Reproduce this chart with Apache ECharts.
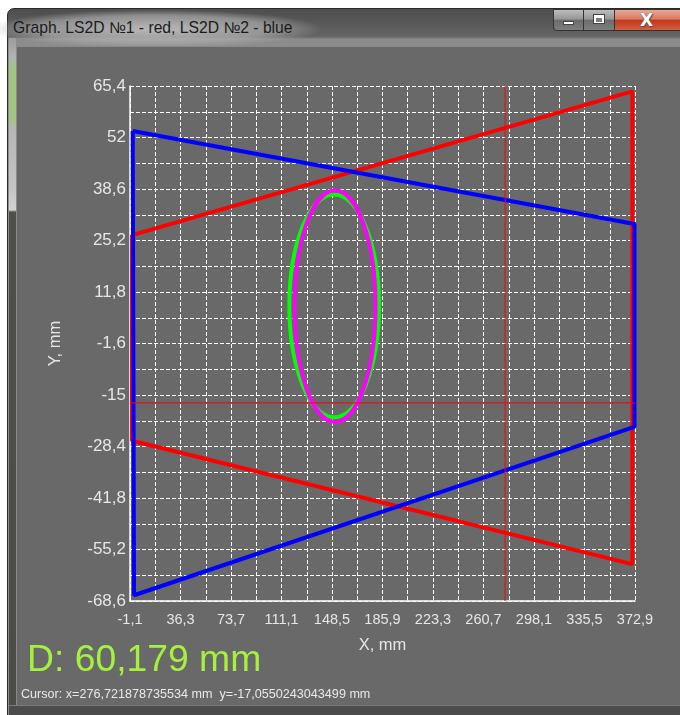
<!DOCTYPE html>
<html><head><meta charset="utf-8">
<script src="https://cdn.jsdelivr.net/npm/echarts@6/dist/echarts.min.js"></script>
<style>
html,body{margin:0;padding:0;width:680px;height:715px;overflow:hidden;background:#ffffff;}
#frame{position:absolute;left:7px;top:8px;width:700px;height:720px;border:1px solid #2a2a2a;border-radius:7px 7px 0 0;box-sizing:border-box;
 background:linear-gradient(to bottom,#4e4e4e 0px,#585858 14px,#646464 27px,#6a6a6a 28px,#8a8a8a 30px,#8e8e8e 38px);}
#glow{position:absolute;left:-10px;top:10px;width:330px;height:38px;
 background:radial-gradient(ellipse at center, rgba(200,200,200,0.85) 0%, rgba(175,175,175,0.65) 50%, rgba(120,120,120,0) 72%);}
#title{position:absolute;left:13px;top:19px;font:15.7px 'Liberation Sans',Arial,sans-serif;color:#1b1b1b;white-space:nowrap;}
#leftglass{position:absolute;left:9px;top:38px;width:7px;height:677px;
 background:linear-gradient(to bottom,#9c9c9c 0px,#b4b4b4 20px,#a3c383 30px,#a3c383 82px,#b6b6b6 92px,#c4c4c4 150px,#d2d2d2 172px,#4f4f4a 174px,#4b4b47 100%);}
#client{position:absolute;left:16px;top:46px;width:680px;height:659px;background:#696969;border-top:1px solid #8a8a8a;border-left:1px solid #8a8a8a;box-sizing:border-box;}
#bottomframe{position:absolute;left:9px;top:705px;width:680px;height:10px;background:#4c4c4c;border-top:1px solid #7a7a7a;box-sizing:border-box;}
.btn{position:absolute;top:9px;height:22px;border:1px solid #333;box-sizing:border-box;}
#bmin{left:553px;width:31px;border-radius:0 0 0 4px;background:linear-gradient(#bdbdbd,#969696 45%,#6c6c6c 52%,#7e7e7e);}
#bmax{left:583px;width:32px;background:linear-gradient(#bdbdbd,#969696 45%,#6c6c6c 52%,#7e7e7e);}
#bclose{left:614px;width:70px;border-radius:0 0 4px 0;background:linear-gradient(#eaa898,#d97a62 45%,#c2381a 52%,#d0603e);}
#imin{position:absolute;left:563px;top:21px;width:11px;height:4px;background:#fff;border:1px solid #444;box-sizing:border-box;}
#imax{position:absolute;left:593px;top:14px;width:12px;height:10px;border:1px solid #444;box-sizing:border-box;background:#fff;}
#imax2{position:absolute;left:596px;top:18px;width:6px;height:4px;background:#7c7c7c;}
#iclose{position:absolute;left:640px;top:10px;font:bold 17px 'DejaVu Sans',sans-serif;color:#fff;text-shadow:0 0 1px #444,1px 1px 1px #555;}
#chart{position:absolute;left:0;top:0;width:680px;height:715px;z-index:5;}
</style></head>
<body>
<div id="frame"></div>
<div id="glow"></div>
<div id="title">Graph. LS2D №1 - red, LS2D №2 - blue</div>
<div id="leftglass"></div>
<div id="client"></div>
<div id="bottomframe"></div>
<div class="btn" id="bmin"></div>
<div class="btn" id="bmax"></div>
<div class="btn" id="bclose"></div>
<div id="imin"></div>
<div id="imax"></div><div id="imax2"></div>
<div id="iclose">X</div>
<div id="chart"></div>
<script>
// ---- data ----
const xTickLabels = ['-1,1','36,3','73,7','111,1','148,5','185,9','223,3','260,7','298,1','335,5','372,9'];
const yTickLabels = ['-68,6','-55,2','-41,8','-28,4','-15','-1,6','11,8','25,2','38,6','52','65,4'];
const xMin = -1.1, xMax = 372.9, xGridStep = 18.7, xLabelStep = 37.4;
const yMin = -68.6, yMax = 65.4, yGridStep = 6.7, yLabelStep = 13.4;
// LS2D No1 (red) contour
const ls2d1X = [0.4, 370.9, 370.9, 0.4, 0.4];
const ls2d1Y = [26.6, 64.0, -59.0, -26.9, 26.6];
// LS2D No2 (blue) contour
const ls2d2X = [0.9, 372.5, 372.5, 1.9, 0.9];
const ls2d2Y = [53.7, 29.5, -23.3, -67.1, 53.7];
// fitted shapes: [cx, cy, rx, ry] in mm
const greenShape = [150.1, 8.2, 33.2, 29.0];
const magentaShape = [150.7, 8.1, 30.09, 30.09];
// cursor
const cursorX = 276.721878735534;
const cursorY = -17.0550243043499;
const diameterLabel = 'D: 60,179 mm';

function zip(a, b) { return a.map((v, i) => [v, b[i]]); }
function tickLabel(v, min, step, arr) {
  const k = (v - min) / step, r = Math.round(k);
  return Math.abs(k - r) < 1e-3 && arr[r] !== undefined ? arr[r] : '';
}
function ellipseItem(color) {
  return function (params, api) {
    const c = api.coord([api.value(0), api.value(1)]);
    const s = api.size([api.value(2), api.value(3)]);
    return { type: 'ellipse', shape: { cx: c[0], cy: c[1], rx: s[0], ry: s[1] },
      style: { fill: 'none', stroke: color, lineWidth: 4 } };
  };
}
const cursorText = 'Cursor: x=' + String(cursorX).replace('.', ',') + ' mm  y=' + String(cursorY).replace('.', ',') + ' mm';

const chart = echarts.init(document.getElementById('chart'), null, { renderer: 'canvas' });
chart.setOption({
  backgroundColor: 'transparent',
  animation: false,
  grid: { left: 130, top: 86, width: 505, height: 515, containLabel: false },
  xAxis: {
    type: 'value', min: xMin, max: xMax, interval: xGridStep,
    name: 'X, mm', nameLocation: 'middle', nameGap: 36,
    nameTextStyle: { color: '#e6e6e6', fontSize: 16.5, fontFamily: 'Liberation Sans' },
    axisLine: { show: true, onZero: false, lineStyle: { color: '#ffffff', width: 1.5 } },
    axisTick: { show: false },
    axisLabel: { color: '#e6e6e6', fontSize: 14.5, fontFamily: 'Liberation Sans', margin: 11,
      showMinLabel: true, showMaxLabel: true,
      formatter: v => tickLabel(v, xMin, xLabelStep, xTickLabels) },
    splitLine: { show: true, lineStyle: { color: '#ffffff', width: 1, type: [4, 2] } }
  },
  yAxis: {
    type: 'value', min: yMin, max: yMax, interval: yGridStep,
    name: 'Y, mm', nameLocation: 'middle', nameGap: 66, nameRotate: 90,
    nameTextStyle: { color: '#e6e6e6', fontSize: 16.5, fontFamily: 'Liberation Sans' },
    axisLine: { show: true, onZero: false, lineStyle: { color: '#ffffff', width: 1.5 } },
    axisTick: { show: false },
    axisLabel: { color: '#e6e6e6', fontSize: 17, fontFamily: 'Liberation Sans', margin: 4,
      showMinLabel: true, showMaxLabel: true,
      formatter: v => tickLabel(v, yMin, yLabelStep, yTickLabels) },
    splitLine: { show: true, lineStyle: { color: '#ffffff', width: 1, type: [4, 2] } }
  },
  series: [
    { name: 'LS2D №1', type: 'line', data: zip(ls2d1X, ls2d1Y), showSymbol: false, clip: false,
      lineStyle: { color: '#ff0000', width: 4 }, itemStyle: { color: '#ff0000' }, z: 3 },
    { name: 'LS2D №2', type: 'line', data: zip(ls2d2X, ls2d2Y), showSymbol: false, clip: false,
      lineStyle: { color: '#0000ff', width: 4 }, itemStyle: { color: '#0000ff' }, z: 4 },
    { name: 'fit green', type: 'custom', data: [greenShape], renderItem: ellipseItem('#00ff00'), z: 5, clip: false },
    { name: 'fit magenta', type: 'custom', data: [magentaShape], renderItem: ellipseItem('#ff00ff'), z: 6, clip: false },
    { name: 'cursor x', type: 'line', data: [[cursorX, yMin], [cursorX, yMax]], showSymbol: false, z: 7,
      lineStyle: { color: '#ff0000', width: 1 }, itemStyle: { color: '#ff0000' } },
    { name: 'cursor y', type: 'line', data: [[xMin, cursorY], [xMax, cursorY]], showSymbol: false, z: 7,
      lineStyle: { color: '#ff0000', width: 1 }, itemStyle: { color: '#ff0000' } }
  ],
  graphic: [
    { type: 'text', left: 27, top: 642, silent: true,
      style: { text: diameterLabel, fill: '#a4f23c', fontSize: 37.3, fontFamily: 'Liberation Sans' } },
    { type: 'text', left: 21, top: 688, silent: true,
      style: { text: cursorText, fill: '#e8e8e8', fontSize: 12.6, fontFamily: 'Liberation Sans' } }
  ]
});
</script>
</body></html>
